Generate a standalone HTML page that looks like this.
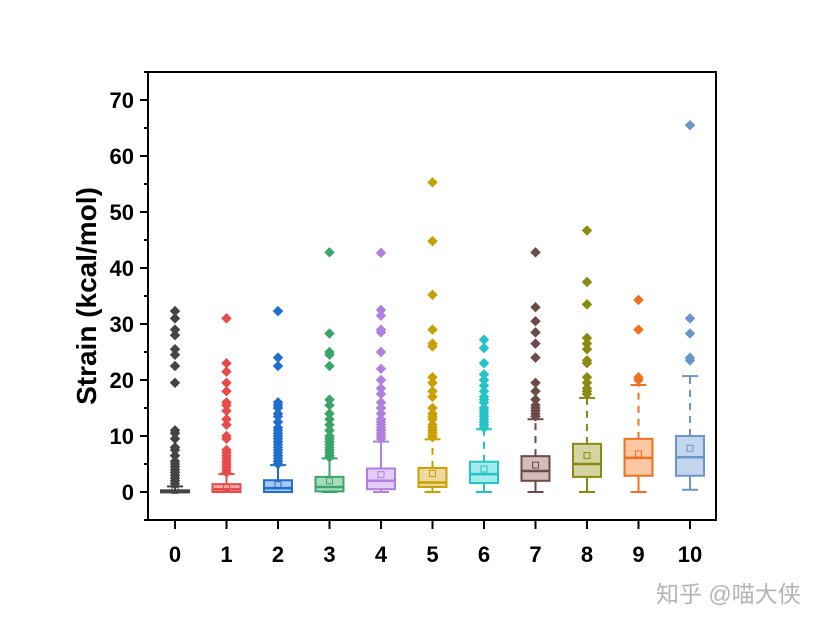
<!DOCTYPE html>
<html><head><meta charset="utf-8"><style>
body{margin:0;background:#fff;}
svg text{font-family:"Liberation Sans",Arial,sans-serif;font-weight:bold;}
</style></head><body>
<svg id="chart" width="834" height="627" xmlns="http://www.w3.org/2000/svg">
<rect width="834" height="627" fill="#fff"/>
<g id="marks"></g>
<rect x="148" y="72" width="568" height="448" fill="none" stroke="#000" stroke-width="2"/>
<g id="axes"></g>
<text transform="translate(96,296) rotate(-90)" text-anchor="middle" font-size="28" fill="#000">Strain (kcal/mol)</text>
<text x="656" y="602" font-size="23" fill="#b4b4b4" style="font-family:'Liberation Sans','Noto Sans CJK SC',sans-serif;font-weight:normal">知乎 @喵大侠</text>
</svg>
<script>
const categories=["0","1","2","3","4","5","6","7","8","9","10"];
const q1=[0,0,0,0.1,0.5,0.9,1.6,2.0,2.7,2.9,2.9];
const q3=[0.3,1.4,2.1,2.7,4.2,4.3,5.4,6.4,8.6,9.5,10.0];
const medians=[0,0.5,0.7,0.9,2.0,1.7,3.2,3.75,5.0,6.1,6.2];
const means=[0.3,0.8,1.3,2.0,3.1,3.3,4.1,4.8,6.5,6.8,7.8];
const whiskLo=[0,0,0,0,0,0,0,0,0,0,0.4];
const whiskHi=[1.0,3.2,4.8,6.0,9.0,9.4,11.2,13.0,16.8,19.1,20.7];
const outliers=[
[32.3,31,29,28,25.5,24.5,22.5,19.5,11,10.5,9.5,8,7.5,6.5,5.5,5,4.5,4,3.5,3,2.5,2,1.5],
[31,23,21.5,19.5,18,16,15.5,14.5,13,12,10,9.5,7.5,7,6.5,6,5.5,5,4.5,4,3.5],
[32.3,24,22.5,16,15.5,15,14,13.5,12.5,11.5,11,10.5,10,9.5,9,8.5,8,7.5,7,6.5,6,5.5,5],
[42.8,28.3,25,24.5,22.5,16.5,15.5,14,13,12,11,10,9.5,9,8.5,8,7.5,7,6.5,6.2],
[42.7,32.5,31.5,29,28.5,25,22,20,18.5,17.5,16,15,14,13,12.5,12,11.5,11,10.5,10,9.5],
[55.3,44.8,35.2,29,26.5,26,20.5,19.5,18,17,15,14,13.5,13,12,11.5,11,10.5,10,9.8],
[27.2,25.7,23,21,20,19,18,17,16.5,16,15,14.5,14,13.5,13,12.5,12,11.5],
[42.8,33,30.5,28.5,26.5,24,19.5,18,16.5,15.5,15,14.5,14,13.5],
[46.7,37.5,33.5,27.5,26.5,25.5,23.5,23,20.5,19.5,18.5,18,17.5],
[34.3,29,20.5,20],
[65.5,31,28.3,24,23.5]];
const yTicks=[0,10,20,30,40,50,60,70];
const strokes=["#444444","#e84a4a","#1f6fd1","#3aa56a","#b07fe0","#c9a000","#22c4c8","#6e4a4a","#8a8a10","#f07020","#6a96cc"];
const fills=["#888888","#f5a8a8","#a8c8f0","#a8dcbc","#e3ccf5","#ecd9a0","#a4ecec","#d4bcbc","#d6d4a0","#fcc8a4","#c4d6ee"];
const NS="http://www.w3.org/2000/svg";
const y=v=>492-5.6*v;
const x=i=>175+51.5*i;
function mk(p,tag,a){const e=document.createElementNS(NS,tag);for(const k in a)e.setAttribute(k,a[k]);p.appendChild(e);return e;}
const marks=document.getElementById('marks'),axes=document.getElementById('axes');
categories.forEach((c,i)=>{
 const g=mk(marks,'g',{});
 
 
 const cx=x(i),s=strokes[i],w=14,cw=8;
 const wl1=mk(g,'line',{x1:cx,x2:cx,y1:y(q3[i]),y2:y(whiskHi[i]),stroke:s,'stroke-width':2,'stroke-dasharray':i>=5?'7,6':'none'});
 
 const wl2=mk(g,'line',{x1:cx,x2:cx,y1:y(q1[i]),y2:y(whiskLo[i]),stroke:s,'stroke-width':2});
 
 mk(g,'line',{x1:cx-cw,x2:cx+cw,y1:y(whiskHi[i]),y2:y(whiskHi[i]),stroke:s,'stroke-width':2});
 mk(g,'line',{x1:cx-cw,x2:cx+cw,y1:y(whiskLo[i]),y2:y(whiskLo[i]),stroke:s,'stroke-width':2});
 outliers[i].forEach(v=>{const d=mk(g,'rect',{x:cx-3.7,y:y(v)-3.7,width:7.4,height:7.4,fill:s,transform:`rotate(45 ${cx} ${y(v)})`});
  });
 const h=Math.max(y(q1[i])-y(q3[i]),2);
 const b=mk(g,'rect',{x:cx-w,y:y(q3[i]),width:2*w,height:h,fill:fills[i],stroke:s,'stroke-width':2});
 
 const m=mk(g,'line',{x1:cx-w,x2:cx+w,y1:y(medians[i]),y2:y(medians[i]),stroke:s,'stroke-width':2.5});
 
 const mn=mk(g,'rect',{x:cx-3,y:y(means[i])-3,width:6,height:6,fill:'none',stroke:s,'stroke-width':1});
 
 const t=mk(axes,'line',{x1:cx,x2:cx,y1:520,y2:529,stroke:'#000','stroke-width':2});
 
 const l=mk(axes,'text',{x:cx,y:562,'text-anchor':'middle','font-size':22,fill:'#000'});l.textContent=c;
 
});
yTicks.forEach(v=>{
 const t=mk(axes,'line',{x1:140,x2:148,y1:y(v),y2:y(v),stroke:'#000','stroke-width':2});
 
 const mt=mk(axes,'line',{x1:144,x2:148,y1:y(v+5),y2:y(v+5),stroke:'#000','stroke-width':2});
 
 const l=mk(axes,'text',{x:134,y:y(v)+8,'text-anchor':'end','font-size':22,fill:'#000'});l.textContent=v;
 
});
const m0=mk(axes,'line',{x1:144,x2:148,y1:y(-5),y2:y(-5),stroke:'#000','stroke-width':2});

</script>
</body></html>
